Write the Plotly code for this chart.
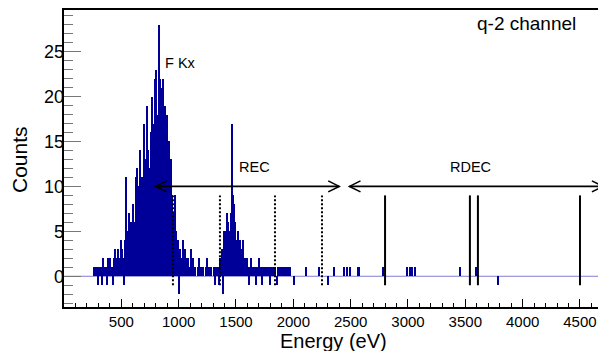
import plotly.graph_objects as go

# ---------------- data ----------------
bin_width = 10  # eV

# F Kx region, bins starting at 260 eV (10 eV steps)
fkx_start = 260
fkx_counts = [
    1, 1, 1, -1, 1, 1, 1, -1, 2, 1,        # 260-350
    1, -1, 2, 1, 2, 1, -1, 2, 3, 1,        # 360-450
    2, 3, 2, 4, 3, 2, -1, 4, 11, 5,        # 460-550
    7, 4, 6, 5, 8, 6, 11, 12, 9, 10,       # 560-650
    14, 8, 11, 17, 13, 10, 19, 14, 12, 16,  # 660-750
    20, 15, 17, 22, 23, 18, 28, 22, 21, 16,  # 760-850
    22, 14, 19, 18, 11, 15, 10, 13, 9, 7,   # 860-950
    9, 5, 3, 4, -2, 3, 2, 4, 1, 3,          # 960-1050
    2, 1, 2, 1, 3, 1, 2, 1, 1, 0,           # 1060-1150
    1, 2, 1, 0, 1, 1, 0, 1, 2, 1,           # 1160-1250
    0, 1, 1, 0, 1, -1, 1, 1,                # 1260-1330
]

# REC peak region, bins starting at 1340 eV
rec_start = 1340
rec_counts = [
    1, -1, 2, 3, -2, 5, 4, 5, 7, 6,         # 1340-1430
    5, 7, 17, 9, 8, 6, 4, 5, 3, 4,          # 1440-1530
    2, 3, 4, 2, 1, 2, 1, -1, 1, 2,          # 1540-1630
    1, 0, 1, -1, 1, 1, 2, 1, -1, 1,         # 1640-1730
    1, 0, 1, 1, 1, -1, 1, 1, 0, 1,          # 1740-1830
    1, -1, 1, 0, 1, 1, 1, 1, 1, 1,          # 1840-1930
    0, 1, 0, 1, 0, 0, -1,                   # 1940-2000
]

# isolated counts above 2000 eV (bin start energy, content)
sparse_energy = [2110, 2220, 2300, 2350, 2440, 2460, 2490, 2560, 2570,
                 2780, 2990, 3010, 3030, 3060, 3450, 3590, 3780]
sparse_counts = [1, 1, -1, 1, 1, 1, 1, 1, 1,
                 1, 1, 1, 1, 1, 1, 1, -1]

# marker lines (eV)
rec_lines = [950, 1360, 1840, 2250]          # dotted
rdec_lines = [2800, 3540, 3610, 4500]        # solid
marker_line_span = [-1, 9]                   # counts

# energy-range arrows (eV) at counts level
rec_arrow = [800, 2400]
rdec_arrow = [2490, 4700]
arrow_level = 10

labels = [
    ("F Kx", 863, 23.7, "left"),
    ("REC", 1663, 12.2, "center"),
    ("RDEC", 3549, 12.2, "center"),
]
channel_label = "q-2 channel"
x_title = "Energy (eV)"
y_title = "Counts"

x_range = [0, 4727]
y_range = [-3.42, 29.63]
x_ticks = [500, 1000, 1500, 2000, 2500, 3000, 3500, 4000, 4500]
y_ticks = [0, 5, 10, 15, 20, 25]

# ---------------- build bins ----------------
energies, counts = [], []
for i, c in enumerate(fkx_counts):
    energies.append(fkx_start + i * bin_width + bin_width / 2)
    counts.append(c)
for i, c in enumerate(rec_counts):
    energies.append(rec_start + i * bin_width + bin_width / 2)
    counts.append(c)
for e, c in zip(sparse_energy, sparse_counts):
    energies.append(e + bin_width / 2)
    counts.append(c)

# Page body has an 8 px default margin; compensate so the frame lands
# at screen (64..606, 10..307).
PAGE_OFF = 8
W, H = 606, 351
SL, ST, SR, SB = 64, 10, 606, 307          # target frame in screen pixels
plot_w = SR - SL
plot_h = SB - ST
ML = SL - PAGE_OFF
MT = ST - PAGE_OFF
MR = W - ML - plot_w
MB = H - MT - plot_h

ev_per_px = (x_range[1] - x_range[0]) / plot_w
cnt_per_px = (y_range[1] - y_range[0]) / plot_h


def paper_x(sx):
    return (sx - SL) / plot_w


def paper_y(sy):
    return (SB - sy) / plot_h


FONT = "Liberation Sans, Arial, Helvetica, sans-serif"
HIST_COLOR = "#000099"

fig = go.Figure()
fig.add_trace(go.Bar(
    x=energies, y=counts, width=bin_width,
    marker=dict(color=HIST_COLOR, line=dict(width=0)),
    hoverinfo="x+y", showlegend=False,
))
# invisible helper so the label-only y axis (y2) is drawn
fig.add_trace(go.Scatter(
    x=[x_range[0]], y=[y_range[0]], yaxis="y2", mode="markers",
    marker=dict(opacity=0), hoverinfo="skip", showlegend=False,
))

shapes = []
# zero baseline of histogram
shapes.append(dict(type="line", xref="paper", x0=0, x1=1, yref="y", y0=0, y1=0,
                   line=dict(color="#7f7fd4", width=1), layer="below"))
for e in rec_lines:
    shapes.append(dict(type="line", xref="x", yref="y", x0=e, x1=e,
                       y0=marker_line_span[0], y1=marker_line_span[1],
                       line=dict(color="black", width=2, dash="2px,2px")))
for e in rdec_lines:
    shapes.append(dict(type="line", xref="x", yref="y", x0=e, x1=e,
                       y0=marker_line_span[0], y1=marker_line_span[1],
                       line=dict(color="black", width=2)))

head_dx = 11 * ev_per_px
head_dy = 5.5 * cnt_per_px
for a, b in (rec_arrow, rdec_arrow):
    shapes.append(dict(type="line", xref="x", yref="y", x0=a, x1=b,
                       y0=arrow_level, y1=arrow_level,
                       line=dict(color="black", width=1.6)))
    for tip, d in ((a, 1), (b, -1)):
        path = (f"M {tip + d * head_dx},{arrow_level + head_dy} "
                f"L {tip},{arrow_level} L {tip + d * head_dx},{arrow_level - head_dy}")
        shapes.append(dict(type="path", xref="x", yref="y", path=path,
                           line=dict(color="black", width=1.6)))

annotations = []
for txt, x, y, anchor in labels:
    annotations.append(dict(text=txt, x=x, y=y, xref="x", yref="y",
                            xanchor=anchor, yanchor="middle", showarrow=False,
                            font=dict(family=FONT, size=14.5, color="black")))
annotations.append(dict(text=channel_label, x=paper_x(526), y=paper_y(23),
                        xref="paper", yref="paper",
                        xanchor="center", yanchor="middle", showarrow=False,
                        font=dict(family=FONT, size=19, color="black")))
# axis titles (placed to match the reference)
annotations.append(dict(text=x_title, x=paper_x(333), y=paper_y(341),
                        xref="paper", yref="paper", xanchor="center", yanchor="middle",
                        showarrow=False, font=dict(family=FONT, size=20, color="black")))
annotations.append(dict(text=y_title, x=paper_x(20), y=paper_y(160),
                        xref="paper", yref="paper", xanchor="center", yanchor="middle",
                        textangle=-90, showarrow=False,
                        font=dict(family=FONT, size=21, color="black")))

fig.update_layout(
    width=W, height=H,
    margin=dict(l=ML, r=MR, t=MT, b=MB, pad=0),
    paper_bgcolor="white", plot_bgcolor="white",
    shapes=shapes, annotations=annotations,
    showlegend=False, bargap=0,
    font=dict(family=FONT, color="black"),
    # label-only axis at the frame's left edge
    yaxis2=dict(
        overlaying="y", anchor="free", side="left", position=0,
        range=y_range, tickmode="array", tickvals=y_ticks, automargin=False,
        ticks="", showline=False, showgrid=False, zeroline=False,
        ticksuffix=" ",
        tickfont=dict(family=FONT, size=18, color="black"),
    ),
)
fig.update_xaxes(
    range=x_range, tickmode="array", tickvals=x_ticks, automargin=False,
    ticks="inside", ticklen=8, tickwidth=1, tickcolor="black",
    minor=dict(dtick=100, tick0=0, ticks="inside", ticklen=4, tickcolor="black", tickwidth=1),
    showline=True, linecolor="black", linewidth=2, mirror=True,
    showgrid=False, zeroline=False,
    tickfont=dict(family=FONT, size=15, color="black"),
)
fig.update_layout(yaxis=dict(
    range=y_range, tickmode="array", tickvals=y_ticks, automargin=False,
    ticks="inside", ticklen=17, tickwidth=1, tickcolor="#777777",
    minor=dict(dtick=1, tick0=0, ticks="inside", ticklen=9, tickcolor="#777777", tickwidth=1),
    showline=True, linecolor="black", linewidth=2, mirror=False,
    showgrid=False, zeroline=False, showticklabels=False,
))

fig.write_html("out.html")
